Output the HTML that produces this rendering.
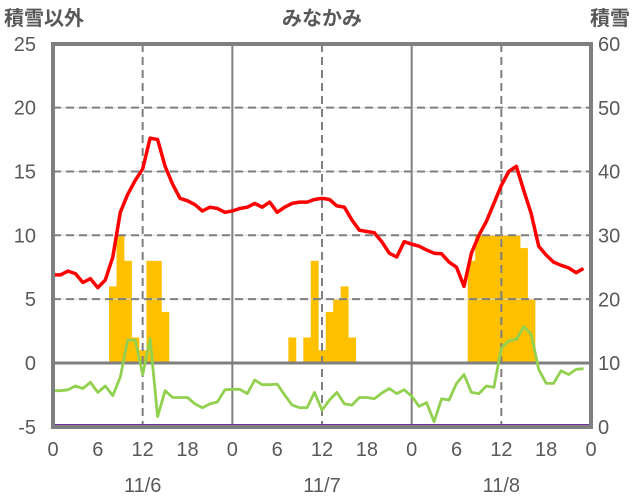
<!DOCTYPE html>
<html><head><meta charset="utf-8"><style>
html,body{margin:0;padding:0;background:#fff;}
svg{display:block;}
text{font-family:"Liberation Sans","Noto Sans CJK JP",sans-serif;fill:#595959;font-size:20px;}
</style></head><body>
<svg id="s" width="636" height="501" viewBox="0 0 636 501" xmlns="http://www.w3.org/2000/svg"></svg>
<script>
const L=53,R=591,T=44,B=427;
const X=h=>L+h*(R-L)/72, Y=v=>363-v*12.77;
let o='';
const bars={8:6,9:10,10:8,11:2,12:1,13:8,14:8,15:4,
32:2,34:2,35:8,36:1,37:4,38:5,39:6,40:2,
56:8,57:10,58:10,59:10,60:10,61:10,62:10,63:9,64:5};
const bw=(R-L)/72;
for(const k in bars){const h=+k;o+=`<rect x="${X(h)-bw/2}" y="${Y(bars[k])}" width="${bw+0.4}" height="${363-Y(bars[k])}" fill="#FFC000"/>`;}
for(const v of [5,10,15,20]) o+=`<line x1="${L}" x2="${R}" y1="${Y(v)}" y2="${Y(v)}" stroke="#d9d9d9" stroke-width="1"/><line x1="${L}" x2="${R}" y1="${Y(v)}" y2="${Y(v)}" stroke="#7f7f7f" stroke-width="2" stroke-dasharray="8,5"/>`;
for(const h of [12,36,60]) o+=`<line x1="${X(h)}" x2="${X(h)}" y1="${T}" y2="${B}" stroke="#7f7f7f" stroke-width="2" stroke-dasharray="8,5"/>`;
for(const h of [24,48]) o+=`<line x1="${X(h)}" x2="${X(h)}" y1="${T}" y2="${B}" stroke="#7f7f7f" stroke-width="2"/>`;
o+=`<line x1="${L}" x2="${R}" y1="363" y2="363" stroke="#7f7f7f" stroke-width="3"/>`;
const red=[6.9,6.9,7.2,7.0,6.3,6.6,5.9,6.5,8.3,11.8,13.2,14.3,15.2,17.6,17.5,15.4,14,12.9,12.7,12.4,11.9,12.2,12.1,11.8,
11.9,12.1,12.2,12.5,12.2,12.6,11.8,12.2,12.5,12.6,12.6,12.8,12.9,12.8,12.3,12.2,11.2,10.4,10.3,10.2,9.5,8.6,8.3,9.5,
9.3,9.15,8.85,8.6,8.55,7.9,7.5,6.0,8.6,10.0,11.1,12.5,13.9,15.0,15.4,13.5,11.7,9.15,8.45,7.9,7.65,7.45,7.07,7.4];
const grn=[-2.17,-2.17,-2.1,-1.8,-2.0,-1.5,-2.3,-1.8,-2.55,-1.1,1.8,1.8,-0.9,1.9,-4.2,-2.17,-2.7,-2.7,-2.7,-3.2,-3.5,-3.2,-3.05,-2.1,
-2.06,-2.06,-2.4,-1.33,-1.7,-1.7,-1.65,-2.5,-3.3,-3.5,-3.5,-2.3,-3.7,-2.9,-2.3,-3.2,-3.3,-2.7,-2.7,-2.8,-2.35,-2.0,-2.4,-2.1,
-2.6,-3.4,-3.1,-4.6,-2.8,-2.9,-1.6,-0.9,-2.3,-2.4,-1.8,-1.9,1.15,1.75,1.85,2.85,2.25,-0.5,-1.6,-1.6,-0.6,-0.9,-0.5,-0.45];
const pl=(a,c,w)=>`<polyline fill="none" stroke="${c}" stroke-width="${w}" stroke-linejoin="round" points="${a.map((v,i)=>X(i).toFixed(1)+','+Y(v).toFixed(1)).join(' ')}"/>`;
o+=pl(grn,'#92D050',2.8);
o+=pl(red,'#FF0000',3.5);
o+=`<line x1="${L}" x2="${R}" y1="${B-1.5}" y2="${B-1.5}" stroke="#7030A0" stroke-width="3"/>`;
o+=`<rect x="${L}" y="${T}" width="${R-L}" height="${B-T}" fill="none" stroke="#7f7f7f" stroke-width="4"/>`;
for(let v=-5;v<=25;v+=5) o+=`<text x="36" y="${Y(v)+7}" text-anchor="end">${v}</text>`;
for(let v=0;v<=60;v+=10) o+=`<text x="598" y="${427-v*6.383+7}">${v}</text>`;
const xl=['0','6','12','18','0','6','12','18','0','6','12','18','0'];
xl.forEach((t,i)=>o+=`<text x="${X(i*6)}" y="456" text-anchor="middle">${t}</text>`);
[['11/6',12],['11/7',36],['11/8',60]].forEach(([t,h])=>o+=`<text x="${X(h)}" y="492" text-anchor="middle">${t}</text>`);
o+=`<text x="4" y="25" font-weight="bold">積雪以外</text><text x="322" y="25" text-anchor="middle" font-weight="bold">みなかみ</text><text x="630" y="25" text-anchor="end" font-weight="bold">積雪</text>`;
document.getElementById('s').innerHTML=o;
</script>
</body></html>
